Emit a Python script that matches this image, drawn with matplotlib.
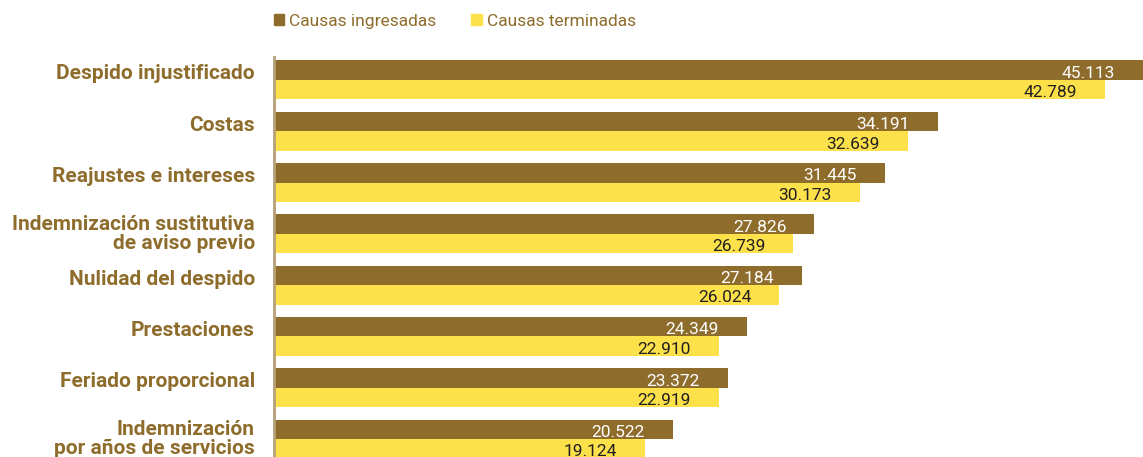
import matplotlib
matplotlib.use("Agg")
import matplotlib.pyplot as plt
from matplotlib.patches import Patch
from matplotlib.transforms import blended_transform_factory

# -----------------------------
# Data
# -----------------------------
categorias = [
    "Despido injustificado",
    "Costas",
    "Reajustes e intereses",
    "Indemnización sustitutiva\nde aviso previo",
    "Nulidad del despido",
    "Prestaciones",
    "Feriado proporcional",
    "Indemnización\npor años de servicios",
]
ingresadas = [45113, 34191, 31445, 27826, 27184, 24349, 23372, 20522]
terminadas = [42789, 32639, 30173, 26739, 26024, 22910, 22919, 19124]
series_nombres = ["Causas ingresadas", "Causas terminadas"]

BROWN = "#8e6d2c"
YELLOW = "#fce14b"
TEXT_DARK = "#231f20"
AXIS = "#b5a077"

plt.rcParams["font.family"] = ["Roboto", "DejaVu Sans"]

fig = plt.figure(figsize=(11.43, 4.57), dpi=100)
ax = fig.add_axes([274 / 1143, 0, 869 / 1143, 400 / 457])

xmax = 44750
bar_h = 0.38
pad = 1440
ax.set_xlim(0, xmax)
ax.set_ylim(7.35, -0.448)


def fmt(v):
    return f"{v:,}".replace(",", ".")


for i, (a, b) in enumerate(zip(ingresadas, terminadas)):
    ax.barh(i - bar_h / 2, a, height=bar_h, color=BROWN)
    ax.barh(i + bar_h / 2, b, height=bar_h, color=YELLOW)
    ax.text(min(a, xmax) - pad, i - bar_h / 2 + 0.06, fmt(a),
            ha="right", va="center", color="white", fontsize=12.5)
    ax.text(min(b, xmax) - pad, i + bar_h / 2 + 0.06, fmt(b),
            ha="right", va="center", color=TEXT_DARK, fontsize=12.5)

# category labels
trans = blended_transform_factory(ax.transAxes, ax.transData)
for i, cat in enumerate(categorias):
    dy = 0 if "\n" in cat else -0.12
    ax.text(-19 / 869, i + dy, cat, transform=trans, ha="right", va="center",
            fontsize=15, fontweight="bold", color=BROWN, linespacing=1.0,
            multialignment="right")

ax.set_yticks([])
ax.set_xticks([])
for s in ["top", "right", "bottom"]:
    ax.spines[s].set_visible(False)
ax.spines["left"].set_color(AXIS)
ax.spines["left"].set_linewidth(2)

handles = [Patch(color=BROWN), Patch(color=YELLOW)]
fig.legend(handles, series_nombres, loc="center", bbox_to_anchor=(0.398, 0.953),
           ncol=2, frameon=False, fontsize=12.5, labelcolor=BROWN,
           handlelength=0.6, handleheight=0.6, handletextpad=0.3,
           columnspacing=2.0)

fig.savefig("out.png", dpi=100)
